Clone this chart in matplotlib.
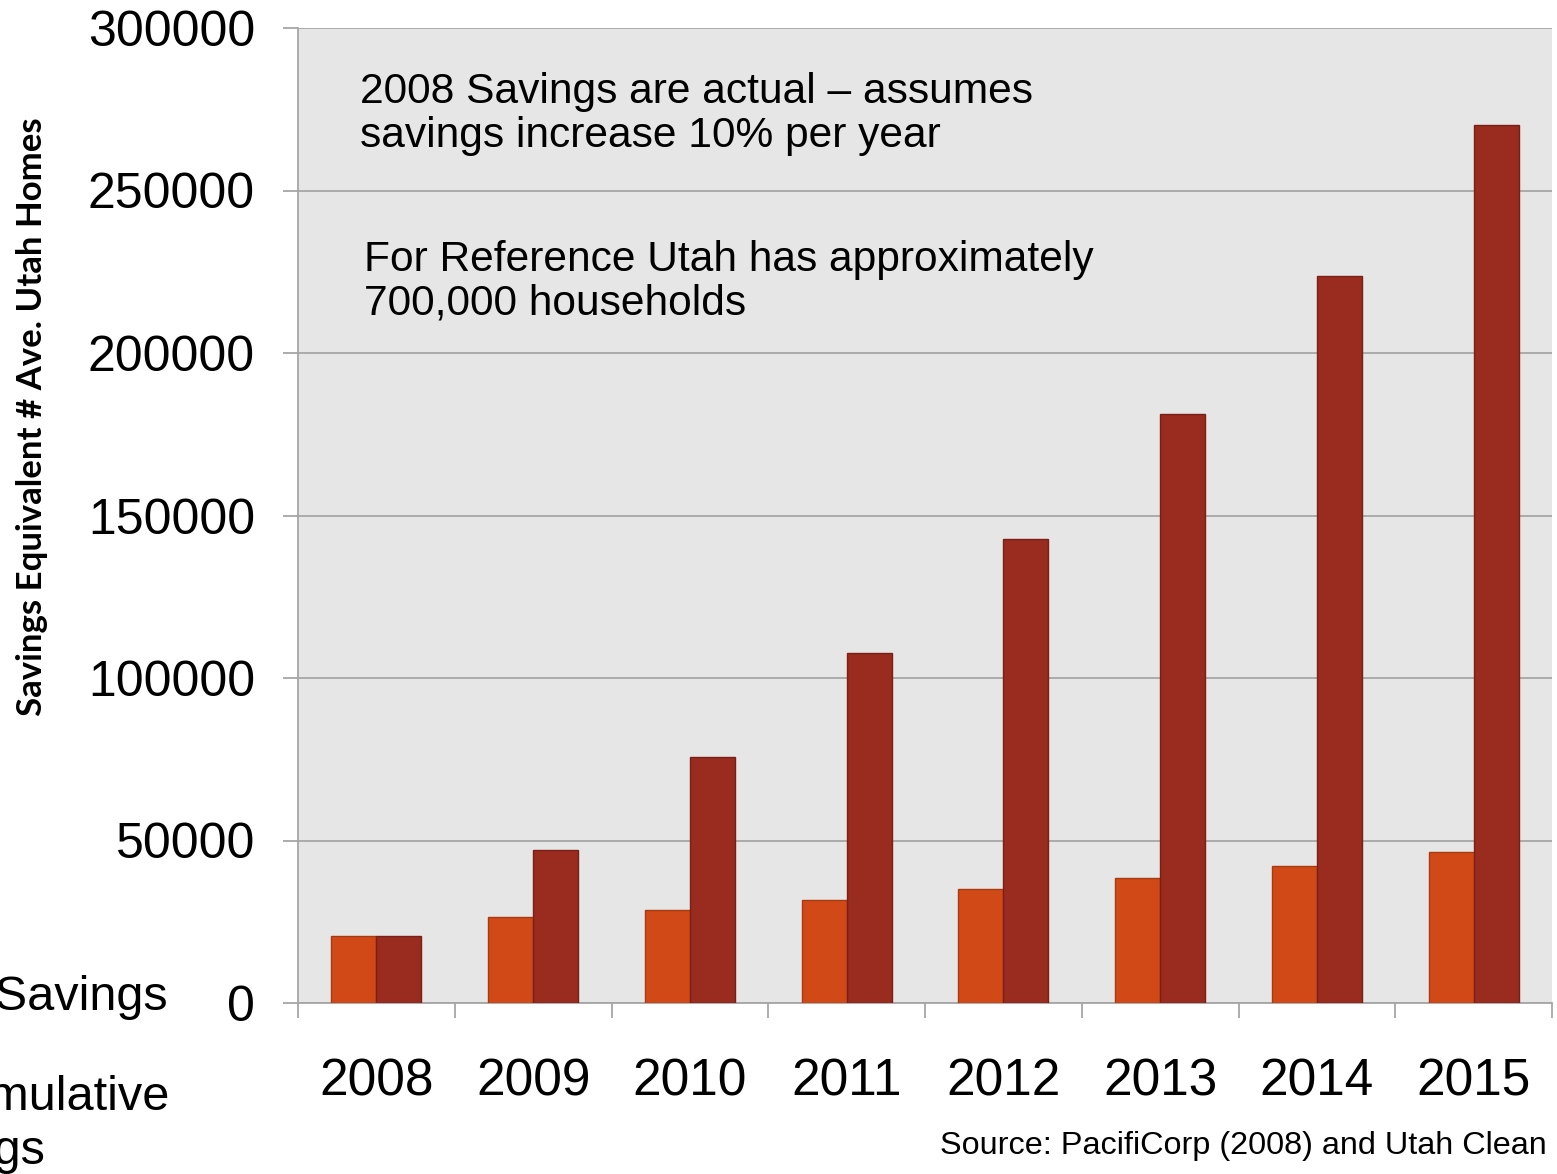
import matplotlib
matplotlib.use("Agg")
import matplotlib.pyplot as plt
import numpy as np

years = ["2008", "2009", "2010", "2011", "2012", "2013", "2014", "2015"]
annual = [20600, 26500, 28600, 31700, 35100, 38500, 42200, 46500]
cumulative = [20600, 47100, 75700, 107700, 142800, 181200, 223700, 270200]
yticks = [0, 50000, 100000, 150000, 200000, 250000, 300000]

W, H = 1557, 1174
PX = 0.72  # points per pixel at dpi 100
fig = plt.figure(figsize=(W / 100, H / 100), dpi=100)
ax_l, ax_r, ax_t, ax_b = 298, 1552, 28, 1003
ax = fig.add_axes([ax_l / W, 1 - ax_b / H, (ax_r - ax_l) / W, (ax_b - ax_t) / H])
ax.set_facecolor("#E6E6E6")

font = "Liberation Sans"
x = np.arange(len(years))
bw = 0.287
ax.bar(x - bw / 2, annual, bw, color="#D24918", edgecolor="#A83A12", linewidth=1, zorder=3)
ax.bar(x + bw / 2, cumulative, bw, color="#992B1F", edgecolor="#7A2016", linewidth=1, zorder=3)

ax.set_xlim(-0.5, len(years) - 0.5)
ax.set_ylim(0, 300000)
ax.set_yticks(yticks)
ax.set_yticklabels([str(v) for v in yticks], fontsize=36, family=font)
ax.yaxis.grid(True, color="#A6A6A6", linewidth=1.3, zorder=1)
ax.set_axisbelow(True)

ax.set_xticks(x)
ax.set_xticklabels(years, fontsize=37, family=font)
ax.set_xticks(np.arange(-0.5, len(years)), minor=True)
ax.tick_params(axis="x", which="major", length=0, pad=55 * PX)
ax.tick_params(axis="x", which="minor", length=15 * PX, color="#A6A6A6", width=1.3)
ax.tick_params(axis="y", length=15 * PX, color="#A6A6A6", width=1.3, pad=28 * PX)

for s in ["top", "right"]:
    ax.spines[s].set_visible(False)
for s in ["left", "bottom"]:
    ax.spines[s].set_color("#A6A6A6")
    ax.spines[s].set_linewidth(1.3)

fig.text(32 / W, 1 - 417 / H, "Savings Equivalent # Ave. Utah Homes", rotation=90,
         ha="center", va="center", fontsize=25, fontweight="bold", family="Lato")

fig.text(360 / W, 1 - 114 / H, "2008 Savings are actual \u2013 assumes\nsavings increase 10% per year",
         ha="left", va="center", fontsize=30.6, family=font, linespacing=1.1)
fig.text(364 / W, 1 - 282 / H, "For Reference Utah has approximately\n700,000 households",
         ha="left", va="center", fontsize=30.6, family=font, linespacing=1.1)

fig.text(940 / W, 1 - 1146 / H, "Source: PacifiCorp (2008) and Utah Clean Energy",
         ha="left", va="center", fontsize=23.3, family=font)

fig.text(168 / W, 1 - 997 / H, "Annual Savings", ha="right", va="center", fontsize=35, family=font)
fig.text(170 / W, 1 - 1097 / H, "Cumulative", ha="right", va="center", fontsize=35, family=font)
fig.text(46 / W, 1 - 1152 / H, "Savings", ha="right", va="center", fontsize=35, family=font)

fig.savefig("out.png", dpi=100)
